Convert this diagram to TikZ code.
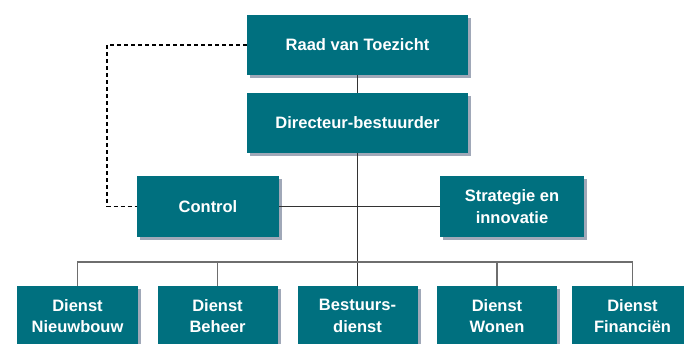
\documentclass[tikz,border=0pt]{standalone}
\usepackage{fontspec}
\setmainfont{Liberation Sans}
\usetikzlibrary{shadows}
\definecolor{teal}{HTML}{00707F}
\definecolor{shadowgray}{HTML}{A0A8B8}
\definecolor{darkline}{HTML}{333333}
\definecolor{busline}{HTML}{6E6E6E}
\tikzset{
  orgbox/.style={fill=teal, text=white, font=\fontsize{16.5}{21.5}\selectfont\bfseries,
    align=center, inner sep=0pt, draw=none,
    general shadow={fill=shadowgray, shadow xshift=3pt, shadow yshift=-3pt}},
  mainline/.style={draw=darkline, line width=1.1pt},
  busstyle/.style={draw=busline, line width=1.1pt},
  dashline/.style={draw=black, line width=1.1pt, dash pattern=on 4pt off 3pt}
}
\begin{document}
\begin{tikzpicture}[x=1pt,y=-1pt]
\useasboundingbox (0,0) rectangle (684,344);
\clip (0,0) rectangle (684,344);
\node[orgbox, minimum width=221pt, minimum height=60pt] (raad) at (357.5,45) {Raad van Toezicht};
\node[orgbox, minimum width=221pt, minimum height=60pt] (dir) at (357.5,123) {Directeur-bestuurder};
\node[orgbox, minimum width=142pt, minimum height=61pt] (control) at (208,206.5) {Control};
\node[orgbox, minimum width=144pt, minimum height=61pt] (strat) at (512,206.5) {Strategie en\\innovatie};
\node[orgbox, minimum width=121pt, minimum height=60pt] (nieuw) at (77.5,316) {Dienst\\Nieuwbouw};
\node[orgbox, minimum width=120pt, minimum height=60pt] (beheer) at (217.5,316) {Dienst\\Beheer};
\node[orgbox, minimum width=120pt, minimum height=60pt] (bestuur) at (357.5,316) {Bestuurs-\\dienst};
\node[orgbox, minimum width=120pt, minimum height=60pt] (wonen) at (497,316) {Dienst\\Wonen};
\node[orgbox, minimum width=121pt, minimum height=60pt] (fin) at (632.5,316) {Dienst\\Financiën};
\coordinate (busmid) at (357.5,262);
\coordinate (dk) at (107,45);
\draw[mainline] (raad.south) -- (dir.north);
\draw[mainline] (dir.south) -- (bestuur.north);
\draw[mainline] (control.east) -- (strat.west);
\draw[busstyle] (nieuw.north) |- (busmid) -| (fin.north);
\draw[busstyle] (beheer.north) -- (beheer.north |- busmid);
\draw[busstyle] (wonen.north) -- (wonen.north |- busmid);
\draw[dashline] (raad.west) -- (dk) |- (control.west);
\end{tikzpicture}
\end{document}
